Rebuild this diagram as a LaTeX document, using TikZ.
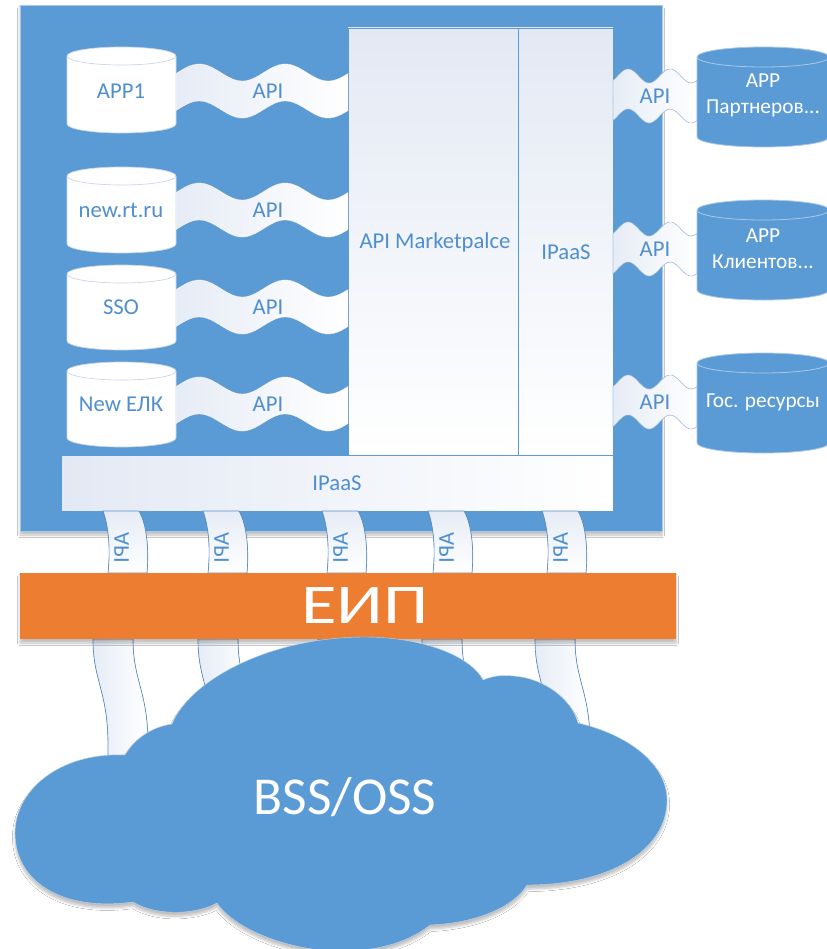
\documentclass[tikz,border=0pt]{standalone}
\usepackage{fontspec}
\setmainfont{Carlito}
\usetikzlibrary{shadows.blur}
\definecolor{mainblue}{HTML}{5B9BD5}
\definecolor{txtblue}{HTML}{4F8FD0}
\definecolor{eiporange}{HTML}{ED7D31}
\definecolor{boxtop}{HTML}{E3E9F4}
\definecolor{ribleft}{HTML}{E6ECF6}
\definecolor{rimgrey}{HTML}{C9D6E6}
\definecolor{rimblue}{HTML}{A9C8E8}
\definecolor{edgeblue}{HTML}{5B8FC8}
\newcommand{\cylshape}[6]{%
  \pgfmathsetmacro\cylcx{(#1+#2)/2}\pgfmathsetmacro\cylrx{(#2-#1)/2}%
  \filldraw[#6] (#1,#3+#5) -- (#1,#4-#5) arc[start angle=180,end angle=0,x radius=\cylrx,y radius=#5] -- (#2,#3+#5) arc[start angle=0,end angle=-180,x radius=\cylrx,y radius=#5] -- cycle;
  \draw[#6,fill=none] (#1,#3+#5) arc[start angle=180,end angle=0,x radius=\cylrx,y radius=#5];}
% x0, L, yc, h, A, phase
\newcommand{\hrib}[7]{%
  \filldraw[#7] plot[domain=0:#2,samples=90,smooth] ({#1+\x},{#3-#4/2-#5*cos(720*(\x/#2-#6))}) -- plot[domain=#2:0,samples=90,smooth] ({#1+\x},{#3+#4/2-#5*cos(720*(\x/#2-#6))}) -- cycle;}
\newcommand{\vribup}[1]{%
  \filldraw[vrib] (#1,511) .. controls (#1+7,530) and (#1+7,555) .. (#1+5,573) -- (#1+44,573) .. controls (#1+46,550) and (#1+44,525) .. (#1+36,511) -- cycle;}
\newcommand{\vribdown}[1]{%
  \filldraw[vribd] (#1,639) .. controls (#1,680) and (#1+14,690) .. (#1+15,740) -- (#1+15,820) -- (#1+55,820) -- (#1+55,740) .. controls (#1+54,690) and (#1+40,680) .. (#1+40,639) -- cycle;}
\begin{document}
\begin{tikzpicture}[x=0.75pt,y=-0.75pt,
  small/.style={font=\fontsize{17}{20}\selectfont,text=txtblue,align=center,inner sep=0pt},
  whitesmall/.style={font=\fontsize{16}{19.5}\selectfont,text=white,align=center,inner sep=0pt},
  big/.style={font=\fontsize{40}{44}\selectfont,text=white,inner sep=0pt},
  hribstyle/.style={left color=ribleft,right color=white,draw=white,line width=0.3pt},
  rribstyle/.style={left color=ribleft,right color=white,draw=rimblue,line width=0.4pt},
  vrib/.style={top color=ribleft,bottom color=white,draw=edgeblue,line width=0.5pt},
  vribd/.style={left color=ribleft,right color=white,draw=edgeblue,line width=0.5pt},
  wcyl/.style={fill=white,draw=rimgrey,line width=0.5pt},
  bcyl/.style={fill=mainblue,draw=rimblue,line width=0.6pt},
  inbox/.style={top color=boxtop,bottom color=white,draw=mainblue,line width=0.5pt},
  softshadow/.style={blur shadow={shadow xshift=0pt,shadow yshift=-3pt,shadow blur steps=6,shadow opacity=25}}]
\useasboundingbox (0,0) rectangle (827,949);
\fill[white] (0,0) rectangle (827,949);

% platform
\filldraw[fill=mainblue,draw=rimblue,line width=0.5pt,softshadow] (20,5) rectangle (662,531);
\filldraw[inbox] (348,28) rectangle (518,455);
\filldraw[inbox] (518,28) rectangle (613,455);
\filldraw[left color=boxtop,right color=white,draw=mainblue,line width=0.5pt] (61,455) rectangle (613,511);
\node[small] (mp) at (435,242) {API Marketpalce};
\node[small] (ipv) at (566,252) {IPaaS};
\node[small] (iph) at (337,483) {IPaaS};

% left cylinders
\cylshape{67}{176}{47}{133}{9}{wcyl}
\node[small] (app1) at (121,91) {APP1};
\cylshape{67}{176}{167}{253}{9}{wcyl}
\node[small] (rt) at (121,210) {new.rt.ru};
\cylshape{67}{176}{265}{350}{9}{wcyl}
\node[small] (sso) at (121,307) {SSO};
\cylshape{67}{176}{362}{447}{9}{wcyl}
\node[small] (elk) at (121,404) {New ЕЛК};

% left ribbons
\hrib{176}{172}{91}{37}{8.5}{0.135}{hribstyle}
\node[small] (api1) at (268,91) {API};
\hrib{176}{172}{210}{37}{8.5}{0.135}{hribstyle}
\node[small] (api2) at (268,210) {API};
\hrib{176}{172}{307}{37}{8.5}{0.135}{hribstyle}
\node[small] (api3) at (268,307) {API};
\hrib{176}{172}{404}{37}{8.5}{0.135}{hribstyle}
\node[small] (api4) at (268,404) {API};

% right ribbons
\hrib{613}{84}{96}{40}{7}{0.18}{rribstyle}
\node[small] (rapi1) at (655,96) {API};
\hrib{613}{84}{249}{40}{7}{0.18}{rribstyle}
\node[small] (rapi2) at (655,249) {API};
\hrib{613}{84}{402}{40}{7}{0.18}{rribstyle}
\node[small] (rapi3) at (655,402) {API};

% right cylinders
\cylshape{697}{829}{47}{147}{10}{bcyl}
\node[whitesmall] (partn) at (763,95) {APP\\Партнеров...};
\cylshape{697}{829}{200}{300}{10}{bcyl}
\node[whitesmall] (klient) at (763,249) {APP\\Клиентов...};
\cylshape{697}{829}{353}{453}{10}{bcyl}
\node[whitesmall] (gos) at (763,402) {Гос. ресурсы};

% vertical ribbons (platform -> EIP)
\foreach \xx/\nm in {103/v1,203/v2,322/v3,428/v4,542/v5}{
  \vribup{\xx}
  \node[small,rotate=-90,yscale=-1] (\nm) at (\xx+18.5,548) {API};
}
% lower ribbons (EIP -> cloud)
\foreach \xx in {93,198,318,422,535}{\vribdown{\xx}}

% EIP
\fill[eiporange,softshadow] (20,573) rectangle (676,639);
\node[big,font=\fontsize{42}{46}\selectfont,xscale=1.3] (eip) at (365,606) {ЕИП};

% cloud
\fill[mainblue,draw=rimgrey,line width=0.3pt,softshadow] (125,755) .. controls (135,738) and (152,727) .. (172,724)
  .. controls (190,680) and (270,637) .. (365,637)
  .. controls (420,637) and (470,655) .. (483,680)
  .. controls (495,675) and (505,675) .. (513,676)
  .. controls (545,678) and (572,700) .. (578,723)
  .. controls (630,735) and (667,765) .. (667,800)
  .. controls (667,850) and (610,885) .. (527,885)
  .. controls (515,905) and (480,923) .. (430,925)
  .. controls (405,945) and (370,952) .. (335,951)
  .. controls (290,950) and (235,930) .. (217,903)
  .. controls (200,913) and (160,918) .. (133,902)
  .. controls (60,912) and (15,880) .. (15,833)
  .. controls (15,790) and (60,752) .. (125,755) -- cycle;
\node[big] (bss) at (345,797) {BSS/OSS};
\end{tikzpicture}
\end{document}
